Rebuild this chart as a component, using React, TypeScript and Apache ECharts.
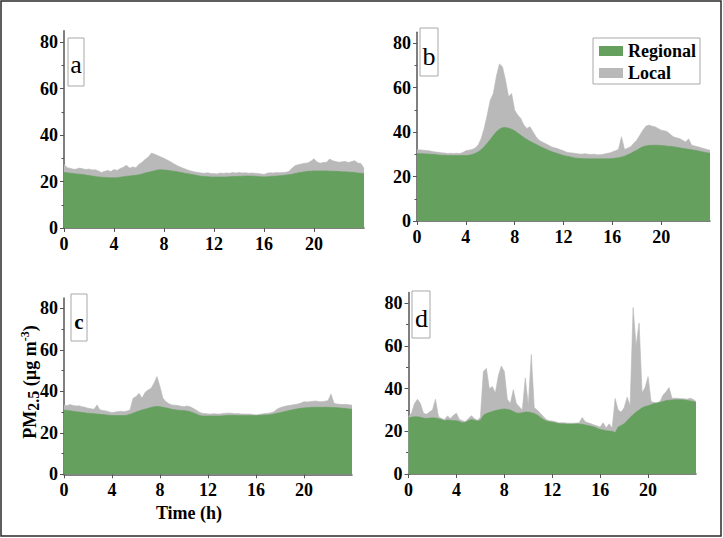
import React, { useEffect, useRef } from "react";
import * as echarts from "echarts";

// time step: quarter hour, 0 .. 24 h
const STEP_HOURS = 0.25;
const X_TICKS = [0, 4, 8, 12, 16, 20];
const Y_TICKS = [0, 20, 40, 60, 80];
const PANEL_LABELS = ["a", "b", "c", "d"];
const SERIES_NAMES = ["Regional", "Local"];

const regionalA = [
  24.0, 23.8, 23.6, 23.5, 23.3, 23.2, 23.0, 22.8, 22.6, 22.4, 22.2, 22.0,
  21.9, 21.8, 21.7, 21.6, 21.6, 21.7, 21.9, 22.1, 22.3, 22.4, 22.6, 22.7,
  22.9, 23.3, 23.7, 24.0, 24.3, 24.7, 25.0, 25.1, 25.0, 24.9, 24.7, 24.5,
  24.3, 24.0, 23.8, 23.5, 23.3, 23.0, 22.8, 22.5, 22.3, 22.2, 22.1, 22.0,
  22.0, 22.0, 22.0, 22.0, 22.0, 22.1, 22.2, 22.2, 22.3, 22.3, 22.4, 22.4,
  22.4, 22.3, 22.2, 22.1, 22.0, 22.1, 22.2, 22.3, 22.4, 22.5, 22.6, 22.8,
  22.9, 23.2, 23.5, 23.8, 24.0, 24.2, 24.4, 24.5, 24.6, 24.6, 24.6, 24.6,
  24.6, 24.5, 24.5, 24.4, 24.3, 24.2, 24.2, 24.1, 24.0, 23.9, 23.7, 23.6,
  23.4,
];
const localA = [
  3.5, 2.2, 2.1, 1.8, 2.1, 2.6, 2.5, 2.4, 2.8, 2.6, 2.9, 2.6,
  2.0, 2.6, 3.1, 2.7, 3.6, 3.1, 3.7, 4.1, 4.7, 3.4, 3.7, 3.3,
  4.6, 5.0, 5.9, 6.6, 8.0, 7.1, 6.2, 5.5, 5.0, 4.4, 3.9, 3.3,
  2.7, 2.4, 2.0, 1.8, 1.5, 1.4, 1.3, 1.4, 1.4, 1.4, 1.7, 1.5,
  1.4, 1.3, 1.7, 1.5, 1.7, 1.5, 1.7, 1.5, 1.6, 1.4, 1.4, 1.2,
  1.3, 1.3, 1.3, 1.2, 1.1, 1.5, 1.6, 1.4, 1.5, 1.3, 1.3, 1.2,
  1.5, 2.6, 3.4, 3.5, 3.6, 3.7, 3.6, 4.3, 5.2, 3.8, 3.3, 3.6,
  3.7, 5.2, 4.5, 4.2, 4.0, 4.3, 4.5, 4.1, 4.6, 5.1, 4.3, 4.2,
  2.3,
];

const regionalB = [
  30.4, 30.3, 30.3, 30.2, 30.1, 30.0, 29.9, 29.7, 29.6, 29.6, 29.5, 29.5,
  29.5, 29.5, 29.5, 29.5, 29.5, 29.6, 29.9, 30.4, 31.1, 32.1, 33.4, 35.0,
  36.7, 38.5, 40.2, 41.3, 42.0, 42.1, 41.8, 41.3, 40.6, 39.6, 38.6, 37.6,
  36.7, 35.9, 35.2, 34.5, 33.8, 33.1, 32.5, 31.9, 31.3, 30.8, 30.4, 29.9,
  29.5, 29.2, 28.9, 28.6, 28.3, 28.2, 28.1, 28.0, 28.0, 28.0, 28.0, 28.0,
  28.0, 28.0, 28.0, 28.0, 28.1, 28.3, 28.5, 28.8, 29.2, 29.8, 30.4, 31.2,
  31.9, 32.7, 33.4, 33.8, 34.0, 34.1, 34.1, 34.1, 34.0, 33.9, 33.7, 33.6,
  33.4, 33.2, 33.0, 32.7, 32.5, 32.3, 32.1, 31.8, 31.6, 31.3, 31.0, 30.7,
  30.5,
];
const localB = [
  1.8, 1.7, 1.6, 1.5, 1.5, 1.3, 1.2, 1.2, 1.1, 1.0, 0.9, 1.0,
  0.9, 1.0, 0.9, 1.3, 2.1, 2.3, 2.3, 2.4, 3.0, 4.9, 8.3, 12.7,
  17.7, 18.9, 24.8, 29.4, 27.5, 21.4, 14.1, 16.1, 9.3, 8.1, 7.6, 5.6,
  5.0, 6.5, 5.0, 3.4, 2.6, 2.5, 2.4, 2.3, 2.1, 2.2, 2.2, 2.2,
  2.1, 1.8, 1.8, 2.0, 2.1, 2.0, 2.0, 2.3, 2.1, 1.9, 2.1, 1.8,
  1.8, 2.0, 2.4, 2.6, 3.0, 3.3, 3.7, 9.1, 3.0, 3.0, 3.0, 3.8,
  4.5, 5.9, 7.5, 8.9, 9.2, 8.6, 8.3, 7.6, 6.9, 6.7, 6.5, 5.4,
  4.5, 4.3, 4.1, 3.7, 3.1, 4.7, 2.0, 2.0, 1.8, 1.7, 1.6, 1.5,
  1.3,
];

const regionalC = [
  31.0, 30.8, 30.6, 30.4, 30.2, 30.0, 29.8, 29.6, 29.4, 29.3, 29.2, 29.0,
  28.9, 28.8, 28.6, 28.5, 28.3, 28.3, 28.3, 28.3, 28.3, 28.5, 28.9, 29.4,
  30.0, 30.5, 31.0, 31.4, 31.8, 32.2, 32.6, 32.7, 32.6, 32.3, 32.0, 31.7,
  31.3, 31.1, 30.9, 30.8, 30.7, 30.5, 30.2, 29.7, 29.1, 28.5, 28.1, 28.1,
  28.1, 28.1, 28.1, 28.1, 28.1, 28.2, 28.3, 28.4, 28.4, 28.4, 28.3, 28.3,
  28.3, 28.3, 28.3, 28.3, 28.3, 28.4, 28.5, 28.6, 28.6, 28.8, 29.1, 29.4,
  29.7, 30.0, 30.4, 30.7, 31.0, 31.3, 31.6, 31.8, 32.0, 32.1, 32.2, 32.3,
  32.3, 32.3, 32.3, 32.3, 32.3, 32.2, 32.2, 32.1, 32.0, 31.8, 31.7, 31.5,
  31.3,
];
const localC = [
  2.5, 2.2, 3.0, 2.8, 2.7, 3.0, 2.8, 2.7, 2.4, 2.3, 2.1, 4.4,
  2.1, 2.0, 1.9, 1.6, 1.4, 1.7, 1.9, 2.1, 1.9, 2.0, 2.1, 7.2,
  7.4, 8.5, 5.6, 8.0, 8.8, 9.2, 11.3, 14.4, 9.6, 4.3, 3.0, 2.3,
  2.1, 2.2, 2.2, 2.0, 1.9, 2.4, 2.4, 2.1, 1.9, 1.5, 1.3, 1.2,
  1.0, 0.9, 1.1, 1.0, 1.0, 1.1, 1.1, 1.1, 1.0, 0.8, 1.0, 0.8,
  0.8, 0.7, 0.7, 0.5, 0.3, 0.4, 0.5, 0.7, 0.8, 0.8, 1.1, 2.0,
  2.4, 2.5, 2.5, 2.4, 2.4, 2.3, 2.3, 2.5, 3.0, 2.7, 2.8, 2.9,
  3.0, 2.7, 2.7, 2.9, 3.2, 6.5, 2.0, 1.8, 1.7, 1.8, 2.0, 2.0,
  2.0,
];

const regionalD = [
  26.3, 26.6, 26.8, 26.8, 26.6, 26.2, 26.0, 26.2, 26.3, 26.2, 25.9, 25.5,
  25.0, 25.3, 25.2, 25.0, 25.0, 24.6, 24.0, 24.3, 25.0, 25.5, 25.2, 24.8,
  25.2, 27.5, 28.3, 28.8, 29.3, 29.7, 30.0, 30.3, 30.5, 30.3, 30.0, 29.3,
  28.6, 28.5, 28.7, 29.0, 29.0, 28.7, 28.4, 27.6, 26.6, 25.5, 24.8, 24.5,
  24.3, 24.0, 23.7, 23.5, 23.5, 23.4, 23.4, 23.4, 23.5, 23.4, 23.3, 23.0,
  22.7, 22.4, 22.0, 21.4, 20.9, 20.6, 20.3, 20.1, 20.0, 19.3, 22.0, 22.7,
  23.5, 25.0, 26.5, 27.8, 29.0, 30.0, 31.0, 31.6, 32.0, 32.5, 33.0, 33.3,
  33.6, 34.0, 34.4, 34.6, 34.7, 34.8, 34.8, 34.8, 34.7, 34.5, 34.2, 34.0,
  33.6,
];
const localD = [
  0.7, 1.9, 6.2, 8.2, 6.4, 2.3, 2.0, 2.8, 3.7, 8.8, 1.1, 0.5,
  0.5, 1.9, 0.8, 2.5, 3.5, 0.9, 1.0, 0.2, 1.0, 1.8, 0.8, 0.4,
  1.3, 20.5, 21.2, 11.2, 11.7, 8.3, 16.0, 20.3, 17.5, 4.7, 3.0, 10.2,
  4.4, 3.0, 1.3, 16.0, 3.0, 27.3, 2.6, 2.4, 1.9, 1.5, 0.7, 0.5,
  0.5, 0.5, 0.3, 0.5, 0.5, 0.4, 0.4, 0.4, 0.3, 0.6, 3.2, 1.5,
  1.3, 1.1, 1.0, 1.1, 1.1, 3.4, 1.2, 3.4, 1.5, 16.1, 8.0, 6.3,
  7.5, 11.0, 5.5, 50.2, 31.0, 40.7, 7.0, 8.9, 13.6, 1.5, 0.5, 0.0,
  0.4, 3.0, 4.1, 5.9, 0.8, 0.7, 0.7, 0.5, 0.6, 0.5, 1.3, 1.0,
  0.4,
];

const PANELS = [
  { regional: regionalA, local: localA },
  { regional: regionalB, local: localB },
  { regional: regionalC, local: localC },
  { regional: regionalD, local: localD },
];

const GREEN = "#65a05f";
const GRAY = "#b9b9b9";
const AXIS = "#555555";
const FONT = "'Liberation Serif', 'Times New Roman', serif";

const GRIDS = [
  { left: 64, top: 30.7, width: 300, height: 197.3 },
  { left: 417, top: 32.2, width: 293, height: 188.8 },
  { left: 64, top: 297.9, width: 288, height: 176.4 },
  { left: 408.5, top: 292.6, width: 287.5, height: 181.4 },
];

const LABEL_BOXES = [
  { x: 68, y: 38, w: 16, h: 48, tx: 76, ty: 64, size: 26, weight: "normal" },
  { x: 420, y: 28, w: 18, h: 48, tx: 429, ty: 56, size: 26, weight: "normal" },
  { x: 71, y: 294, w: 16, h: 47, tx: 79, ty: 322, size: 21, weight: "bold" },
  { x: 412, y: 291, w: 18, h: 47, tx: 421.5, ty: 318, size: 26, weight: "normal" },
];

function buildOption() {
  const xAxis: any[] = [];
  const yAxis: any[] = [];
  const series: any[] = [];
  const labelStyle = {
    color: "#000",
    fontFamily: FONT,
    fontWeight: "bold",
    fontSize: 18,
  };
  PANELS.forEach((p, i) => {
    xAxis.push({
      type: "value",
      gridIndex: i,
      min: 0,
      max: 24,
      interval: 4,
      axisLine: { show: true, lineStyle: { color: AXIS, width: 1.5 } },
      axisTick: { show: true, length: 4, customValues: X_TICKS, lineStyle: { color: AXIS } },
      axisLabel: { ...labelStyle, margin: 7, customValues: X_TICKS },
      splitLine: { show: false },
    });
    yAxis.push({
      type: "value",
      gridIndex: i,
      min: 0,
      max: 85,
      interval: 20,
      axisLine: { show: true, lineStyle: { color: AXIS, width: 1.5 } },
      axisTick: { show: true, length: 4, customValues: Y_TICKS, lineStyle: { color: AXIS } },
      minorTick: { show: true, splitNumber: 2, length: 2.5, lineStyle: { color: AXIS } },
      axisLabel: { ...labelStyle, margin: 6, customValues: Y_TICKS },
      splitLine: { show: false },
    });
    const total = p.regional.map((r, k) => [k * STEP_HOURS, +(r + p.local[k]).toFixed(2)]);
    const reg = p.regional.map((r, k) => [k * STEP_HOURS, r]);
    series.push({
      name: SERIES_NAMES[1],
      type: "line",
      xAxisIndex: i,
      yAxisIndex: i,
      data: total,
      showSymbol: false,
      symbol: "none",
      color: GRAY,
      lineStyle: { width: 0.6, color: GRAY },
      areaStyle: { color: GRAY, opacity: 1 },
      z: 2,
    });
    series.push({
      name: SERIES_NAMES[0],
      type: "line",
      xAxisIndex: i,
      yAxisIndex: i,
      data: reg,
      showSymbol: false,
      symbol: "none",
      color: GREEN,
      lineStyle: { width: 0.6, color: GREEN },
      areaStyle: { color: GREEN, opacity: 1 },
      z: 3,
    });
  });

  const graphic: any[] = [
    {
      type: "rect",
      shape: { x: 1, y: 1, width: 720, height: 535 },
      style: { fill: "none", stroke: "#2a2a2a", lineWidth: 1.5 },
      z: 10,
    },
  ];
  LABEL_BOXES.forEach((b, i) => {
    graphic.push({
      type: "rect",
      shape: { x: b.x, y: b.y, width: b.w, height: b.h },
      style: { fill: "#fff", stroke: "#a8a8a8", lineWidth: 1 },
      z: 10,
    });
    graphic.push({
      type: "text",
      x: b.tx,
      y: b.ty,
      style: {
        text: PANEL_LABELS[i],
        fill: "#000",
        fontFamily: FONT,
        fontSize: b.size,
        fontWeight: b.weight,
        align: "center",
        verticalAlign: "middle",
      },
      z: 11,
    });
  });
  graphic.push({
    type: "text",
    x: 189,
    y: 513,
    style: {
      text: "Time (h)",
      fill: "#000",
      fontFamily: FONT,
      fontSize: 18,
      fontWeight: "bold",
      align: "center",
      verticalAlign: "middle",
    },
    z: 11,
  });
  graphic.push({
    type: "text",
    x: 30,
    y: 382,
    rotation: Math.PI / 2,
    style: {
      text: "{m|PM}{s|2.5}{m| (µg m}{p|-3}{m|)}",
      fill: "#000",
      align: "center",
      verticalAlign: "middle",
      rich: {
        m: { fontFamily: FONT, fontSize: 18, fontWeight: "bold", fill: "#000", lineHeight: 22, verticalAlign: "middle" },
        s: { fontFamily: FONT, fontSize: 16, fontWeight: "bold", fill: "#000", lineHeight: 22, verticalAlign: "bottom" },
        p: { fontFamily: FONT, fontSize: 12, fontWeight: "bold", fill: "#000", lineHeight: 12, verticalAlign: "top" },
      },
    },
    z: 11,
  });

  return {
    animation: false,
    backgroundColor: "#ffffff",
    grid: GRIDS.map((g) => ({ ...g, containLabel: false, outerBoundsMode: "none" })),
    xAxis,
    yAxis,
    legend: {
      left: 593,
      top: 38,
      orient: "vertical",
      data: [
        { name: SERIES_NAMES[0], icon: "rect", itemStyle: { color: GREEN } },
        { name: SERIES_NAMES[1], icon: "rect", itemStyle: { color: GRAY } },
      ],
      itemWidth: 24,
      itemHeight: 10,
      itemGap: 4,
      padding: [4, 4, 2, 6],
      borderColor: "#a8a8a8",
      borderWidth: 1,
      backgroundColor: "#fff",
      selectedMode: false,
      textStyle: { color: "#000", fontFamily: FONT, fontWeight: "bold", fontSize: 18, padding: [0, 0, 0, 0] },
    },
    graphic,
    series,
  };
}

export default function App() {
  const ref = useRef<HTMLDivElement>(null);
  useEffect(() => {
    document.body.style.margin = "0";
    const chart = echarts.init(ref.current as HTMLDivElement, null, { renderer: "svg" });
    chart.setOption(buildOption() as any);
    return () => chart.dispose();
  }, []);
  return <div ref={ref} style={{ width: 723, height: 538 }} />;
}
